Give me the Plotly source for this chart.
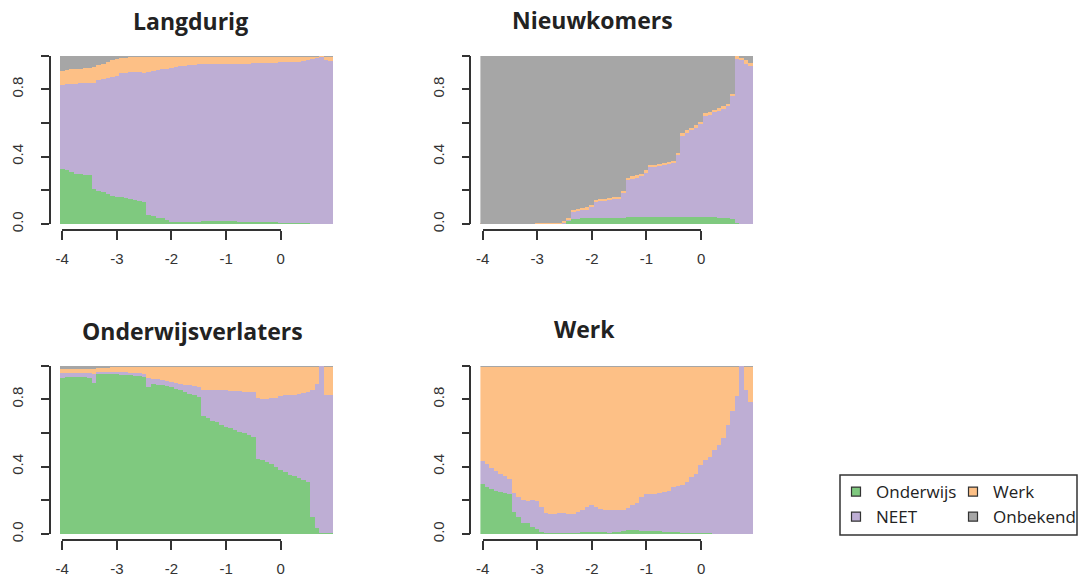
import plotly.graph_objects as go

W, H = 1079, 580

# ---------------- data ----------------
months = list(range(60))                       # monthly positions
time_years = [-4 + m / 12 for m in months]     # years relative to reference moment
x_ticks = [-4, -3, -2, -1, 0]
x_ticktext = ["-4", "-3", "-2", "-1", "0"]
y_ticks = [0, 0.2, 0.4, 0.6, 0.8, 1.0]
y_ticktext = ["0.0", "", "0.4", "", "0.8", ""]

states = ["Onderwijs", "NEET", "Werk", "Onbekend"]
colors = ["#7FC97F", "#BEAED4", "#FDC086", "#A6A6A6"]
titles = ["Langdurig", "Nieuwkomers", "Onderwijsverlaters", "Werk"]

# cumulative upper edge of each state (stack order: Onderwijs, NEET, Werk, Onbekend)
lang_onderwijs = [0.33, 0.32, 0.31, 0.30, 0.30, 0.295, 0.29, 0.21, 0.20, 0.19, 0.18, 0.17,
                  0.165, 0.16, 0.155, 0.15, 0.145, 0.14, 0.13, 0.055, 0.05, 0.04, 0.035, 0.025,
                  0.015, 0.015, 0.015, 0.015, 0.015, 0.015, 0.015, 0.02, 0.02, 0.02, 0.02, 0.02,
                  0.02, 0.018, 0.017, 0.016, 0.015, 0.015, 0.015, 0.015, 0.014, 0.012, 0.012, 0.011,
                  0.01, 0.01, 0.01, 0.008, 0.008, 0.007, 0.006, 0.004, 0.003, 0.002, 0.002, 0.002]
lang_neet = [0.83, 0.835, 0.835, 0.835, 0.84, 0.84, 0.84, 0.84, 0.86, 0.865, 0.87, 0.875,
             0.88, 0.90, 0.90, 0.905, 0.905, 0.905, 0.90, 0.905, 0.91, 0.915, 0.92, 0.925,
             0.93, 0.935, 0.94, 0.942, 0.945, 0.947, 0.95, 0.95, 0.95, 0.95, 0.952, 0.952,
             0.952, 0.953, 0.953, 0.954, 0.954, 0.955, 0.958, 0.958, 0.96, 0.96, 0.96, 0.96,
             0.962, 0.962, 0.963, 0.963, 0.965, 0.97, 0.975, 0.98, 0.99, 0.998, 0.975, 0.97]
lang_werk = [0.91, 0.915, 0.92, 0.925, 0.925, 0.93, 0.93, 0.935, 0.945, 0.955, 0.965, 0.975,
             0.985, 0.99, 0.993, 0.995, 0.997, 0.997, 0.997, 0.997, 0.997, 0.997, 0.997, 0.997,
             0.997, 0.997, 0.997, 0.997, 0.997, 0.997, 0.997, 0.997, 0.997, 0.997, 0.997, 0.997,
             0.997, 0.997, 0.997, 0.997, 0.997, 0.997, 0.997, 0.997, 0.997, 0.997, 0.997, 0.997,
             0.997, 0.997, 0.997, 0.997, 0.997, 0.997, 0.997, 0.997, 0.997, 1.0, 0.995, 0.995]

nieuw_onderwijs = [0, 0, 0, 0, 0, 0, 0, 0, 0, 0, 0, 0,
                   0, 0, 0, 0, 0, 0, 0.005, 0.025, 0.03, 0.033, 0.035, 0.035,
                   0.036, 0.037, 0.037, 0.036, 0.038, 0.04, 0.04, 0.04, 0.042, 0.042, 0.043, 0.043,
                   0.045, 0.045, 0.045, 0.044, 0.043, 0.042, 0.042, 0.043, 0.045, 0.046, 0.046, 0.045,
                   0.045, 0.044, 0.043, 0.042, 0.04, 0.04, 0.038, 0.03, 0.01, 0.002, 0.0, 0.0]
nieuw_neet = [0.002, 0.002, 0.002, 0.002, 0.002, 0.002, 0.002, 0.002, 0.002, 0.002, 0.002, 0.002,
              0.006, 0.006, 0.006, 0.006, 0.006, 0.006, 0.012, 0.028, 0.075, 0.078, 0.085, 0.09,
              0.105, 0.135, 0.138, 0.14, 0.143, 0.148, 0.151, 0.185, 0.262, 0.27, 0.278, 0.285,
              0.305, 0.338, 0.343, 0.348, 0.352, 0.357, 0.362, 0.41, 0.525, 0.545, 0.56, 0.575,
              0.595, 0.645, 0.652, 0.665, 0.675, 0.685, 0.703, 0.763, 0.985, 0.975, 0.955, 0.94]
nieuw_werk = [0.004, 0.004, 0.004, 0.004, 0.004, 0.004, 0.004, 0.004, 0.004, 0.004, 0.004, 0.004,
              0.01, 0.01, 0.01, 0.01, 0.01, 0.01, 0.02, 0.035, 0.087, 0.09, 0.097, 0.10,
              0.117, 0.145, 0.15, 0.152, 0.155, 0.16, 0.163, 0.20, 0.275, 0.285, 0.29, 0.30,
              0.32, 0.35, 0.355, 0.36, 0.365, 0.37, 0.375, 0.425, 0.54, 0.56, 0.575, 0.59,
              0.61, 0.66, 0.667, 0.68, 0.69, 0.70, 0.717, 0.776, 1.0, 0.99, 0.975, 0.96]

verl_onderwijs = [0.93, 0.935, 0.935, 0.935, 0.935, 0.935, 0.93, 0.90, 0.95, 0.952, 0.952, 0.95,
                  0.95, 0.948, 0.946, 0.944, 0.942, 0.94, 0.935, 0.875, 0.895, 0.89, 0.885, 0.88,
                  0.875, 0.865, 0.855, 0.845, 0.835, 0.825, 0.815, 0.70, 0.69, 0.675, 0.665, 0.65,
                  0.64, 0.63, 0.62, 0.61, 0.60, 0.59, 0.58, 0.45, 0.44, 0.43, 0.415, 0.40,
                  0.385, 0.37, 0.355, 0.345, 0.335, 0.325, 0.31, 0.10, 0.04, 0.005, 0.005, 0.005]
verl_neet = [0.96, 0.96, 0.96, 0.96, 0.96, 0.96, 0.96, 0.95, 0.965, 0.965, 0.965, 0.965,
             0.963, 0.962, 0.962, 0.96, 0.96, 0.958, 0.955, 0.93, 0.925, 0.92, 0.915, 0.91,
             0.905, 0.90, 0.895, 0.89, 0.885, 0.88, 0.875, 0.86, 0.86, 0.86, 0.858, 0.855,
             0.855, 0.853, 0.85, 0.85, 0.848, 0.845, 0.843, 0.81, 0.805, 0.805, 0.808, 0.81,
             0.82, 0.825, 0.83, 0.83, 0.835, 0.84, 0.845, 0.855, 0.895, 1.0, 0.83, 0.83]
verl_werk = [0.98, 0.98, 0.98, 0.98, 0.98, 0.98, 0.98, 0.985, 0.99, 0.99, 0.992, 0.995,
             0.997, 0.997, 0.997, 0.997, 0.997, 0.997, 0.997, 0.997, 0.997, 0.997, 0.997, 0.997,
             0.997, 0.997, 0.997, 0.997, 0.997, 0.997, 0.997, 0.997, 0.997, 0.997, 0.997, 0.997,
             0.997, 0.997, 0.997, 0.997, 0.997, 0.997, 0.997, 0.997, 0.997, 0.997, 0.997, 0.997,
             0.997, 0.997, 0.997, 0.997, 0.997, 0.997, 0.997, 0.997, 0.997, 1.0, 0.997, 0.997]

werk_onderwijs = [0.30, 0.28, 0.27, 0.26, 0.25, 0.245, 0.24, 0.13, 0.10, 0.07, 0.065, 0.045,
                  0.03, 0.015, 0.01, 0.008, 0.008, 0.008, 0.01, 0.01, 0.01, 0.01, 0.012, 0.012,
                  0.012, 0.015, 0.012, 0.012, 0.01, 0.012, 0.012, 0.02, 0.025, 0.025, 0.025, 0.022,
                  0.02, 0.02, 0.018, 0.018, 0.015, 0.015, 0.012, 0.012, 0.01, 0.01, 0.01, 0.008,
                  0.008, 0.006, 0.005, 0.004, 0.003, 0.003, 0.002, 0.002, 0.002, 0.0, 0.0, 0.0]
werk_neet = [0.435, 0.415, 0.395, 0.375, 0.36, 0.345, 0.33, 0.245, 0.22, 0.205, 0.20, 0.205,
             0.198, 0.16, 0.125, 0.12, 0.12, 0.128, 0.126, 0.12, 0.12, 0.13, 0.145, 0.165,
             0.175, 0.165, 0.148, 0.143, 0.143, 0.143, 0.147, 0.143, 0.158, 0.172, 0.186, 0.222,
             0.238, 0.238, 0.24, 0.245, 0.25, 0.257, 0.28, 0.285, 0.29, 0.31, 0.34, 0.36,
             0.41, 0.44, 0.46, 0.50, 0.53, 0.575, 0.65, 0.73, 0.82, 1.0, 0.855, 0.785]
werk_werk = [0.997, 0.997, 0.997, 0.997, 0.997, 0.997, 0.997, 0.997, 0.997, 0.997, 0.997, 0.997,
             0.997, 0.997, 0.997, 0.997, 0.997, 0.997, 0.997, 0.997, 0.997, 0.997, 0.997, 0.997,
             0.997, 0.997, 0.997, 0.997, 0.997, 0.997, 0.997, 0.997, 0.997, 0.997, 0.997, 0.997,
             0.997, 0.997, 0.997, 0.997, 0.997, 0.997, 0.997, 0.997, 0.997, 0.997, 0.997, 0.997,
             0.997, 0.997, 0.997, 0.997, 0.997, 0.997, 0.997, 0.997, 0.997, 1.0, 0.997, 0.997]

cumulative = [
    (lang_onderwijs, lang_neet, lang_werk),
    (nieuw_onderwijs, nieuw_neet, nieuw_werk),
    (verl_onderwijs, verl_neet, verl_werk),
    (werk_onderwijs, werk_neet, werk_werk),
]


def to_shares(c_ond, c_neet, c_werk):
    ond = list(c_ond)
    neet = [b - a for a, b in zip(c_ond, c_neet)]
    werk = [b - a for a, b in zip(c_neet, c_werk)]
    onb = [1 - b for b in c_werk]
    return [ond, neet, werk, onb]


# ---------------- layout geometry (pixels) ----------------
panel_pos = [(60.0, 55.7), (480.4, 55.7), (60.0, 365.7), (480.4, 365.7)]
title_pos = [(190, 20.5), (592, 20.0), (192, 330.5), (584, 329.0)]
PW, PH = 273.0, 168.3
x_lo, x_hi = -4 - 1 / 24, 11 / 12 + 1 / 24
ppu = PW / (x_hi - x_lo)

AX = "#333333"
tick_font = dict(family="Liberation Sans, Arial", size=15, color=AX)

fig = go.Figure()
layout = dict(
    template="none",
    width=W, height=H, autosize=False,
    margin=dict(l=0, r=0, t=0, b=0, pad=0, autoexpand=False),
    paper_bgcolor="white", plot_bgcolor="rgba(0,0,0,0)",
    barmode="stack", bargap=0,
    annotations=[], shapes=[],
)

for k, ((left, top), cum) in enumerate(zip(panel_pos, cumulative)):
    n = k + 1
    sfx = "" if n == 1 else str(n)
    tn = k + 5
    shares = to_shares(*cum)
    for state, col, vals in zip(states, colors, shares):
        fig.add_trace(go.Bar(
            x=time_years, y=vals, width=1 / 12, name=state,
            marker=dict(color=col, line=dict(width=0)),
            showlegend=False, xaxis="x" + sfx, yaxis="y" + sfx,
        ))
    bottom = top + PH
    layout["xaxis" + sfx] = dict(
        domain=[left / W, (left + PW) / W], range=[x_lo, x_hi],
        visible=False, anchor="y" + sfx, fixedrange=True, automargin=False,
    )
    layout["yaxis" + sfx] = dict(
        domain=[1 - bottom / H, 1 - top / H], range=[0, 1],
        anchor="free", position=(left - 10) / W, automargin=False,
        showline=True, linecolor=AX, linewidth=1.6,
        ticks="outside", ticklen=8, tickwidth=1.6, tickcolor=AX,
        tickvals=y_ticks, ticktext=y_ticktext, tickangle=-90,
        tickfont=tick_font, ticklabelstandoff=12,
        showgrid=False, zeroline=False, fixedrange=True,
    )
    # R-style x axis running from the first to the last tick only
    x_m4 = left + (-4 - x_lo) * ppu
    x_0 = left + (0 - x_lo) * ppu
    pos = 1 - (bottom + 4.7) / H
    layout["xaxis%d" % tn] = dict(
        domain=[x_m4 / W, x_0 / W], range=[-4, 0], anchor="y%d" % tn,
        automargin=False,
        showline=True, linecolor=AX, linewidth=1.6,
        ticks="outside", ticklen=9, tickwidth=1.6, tickcolor=AX,
        tickvals=x_ticks, ticktext=x_ticktext, tickfont=tick_font,
        ticklabelstandoff=6, showgrid=False, zeroline=False, fixedrange=True,
    )
    layout["yaxis%d" % tn] = dict(
        domain=[pos, pos + 0.01], range=[0, 1], anchor="x%d" % tn,
        automargin=False,
        showline=False, showticklabels=False, ticks="", showgrid=False,
        zeroline=False, fixedrange=True,
    )
    tx, ty = title_pos[k]
    layout["annotations"].append(dict(
        text=titles[k], x=tx / W, y=1 - ty / H, xref="paper", yref="paper",
        xanchor="center", yanchor="middle", showarrow=False,
        font=dict(family="Open Sans", size=23, color="#222222", weight=700),
    ))

# legend entries (two columns, like R's ncol = 2); each entry lives on one of
# the four tick-axis subplots so that those subplots get drawn
legend_of = ["legend", "legend", "legend2", "legend2"]
for k, (state, col, lg) in enumerate(zip(states, colors, legend_of)):
    tn = k + 5
    fig.add_trace(go.Scatter(
        x=[None], y=[None], mode="markers", name=state, legend=lg,
        marker=dict(symbol="square", size=9, color=col, line=dict(color=AX, width=1.2)),
        xaxis="x%d" % tn, yaxis="y%d" % tn, hoverinfo="skip",
    ))

leg_font = dict(family="Open Sans", size=17, color="#222222")
layout["legend"] = dict(x=836 / W, y=1 - 474 / H, xanchor="left", yanchor="top",
                        bgcolor="rgba(0,0,0,0)", font=leg_font, itemwidth=30,
                        tracegroupgap=0, traceorder="normal", borderwidth=0)
layout["legend2"] = dict(x=953 / W, y=1 - 474 / H, xanchor="left", yanchor="top",
                         bgcolor="rgba(0,0,0,0)", font=leg_font, itemwidth=30,
                         tracegroupgap=0, traceorder="normal", borderwidth=0)
layout["shapes"].append(dict(
    type="rect", xref="paper", yref="paper",
    x0=840 / W, x1=1077 / W, y0=1 - 535 / H, y1=1 - 475 / H,
    line=dict(color=AX, width=1.5), fillcolor="rgba(0,0,0,0)",
))

fig.update_layout(**layout)
fig.write_html("out.html", config={"displayModeBar": False},
               post_script="document.body.style.margin='0px';")
